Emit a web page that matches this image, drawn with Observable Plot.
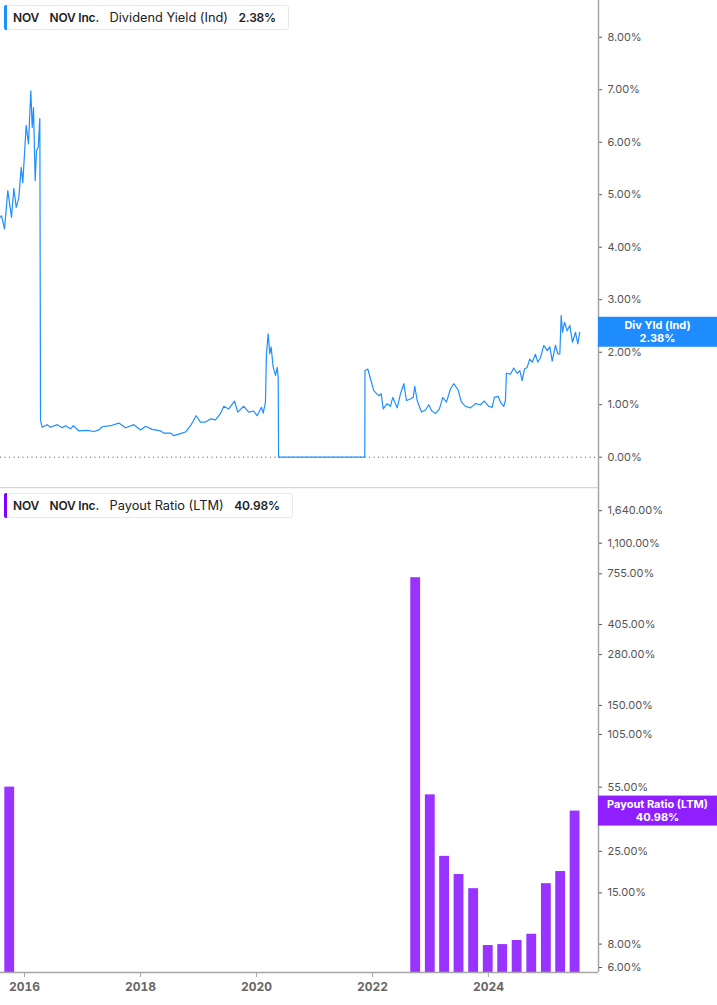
<!DOCTYPE html>
<html>
<head>
<meta charset="utf-8">
<script src="https://cdn.jsdelivr.net/npm/d3@7"></script>
<script src="https://cdn.jsdelivr.net/npm/@observablehq/plot@0.6"></script>
<style>
  body { margin: 0; background: #fff; font-family: Inter, "Noto Sans", sans-serif; }
  #wrap { position: relative; width: 717px; height: 1005px; overflow: hidden; }
  #wrap svg { display: block; }
  .legend { position: absolute; left: 4px; height: 25px; border: 1px solid #e8e8e8; border-radius: 3px;
    background: #fff; display: flex; align-items: center; gap: 10.5px; padding: 0 12px 0 8px;
    font-size: 12px; color: #222; box-sizing: border-box; white-space: nowrap; }
  .legend .bar { position: absolute; left: -1px; top: -1px; bottom: -1px; width: 3px; border-radius: 2px 0 0 2px; }
  .legend b { font-weight: 600; letter-spacing: -0.2px; }
  .legend span.lab { font-size: 12.8px; }
</style>
</head>
<body>
<div id="wrap">
  <div id="topPanel"></div>
  <div id="botPanel"></div>
  <div class="legend" style="top:5px"><span class="bar" style="background:#1e8fff"></span><b>NOV</b><b>NOV Inc.</b><span class="lab">Dividend Yield (Ind)</span><b>2.38%</b></div>
  <div class="legend" style="top:493px"><span class="bar" style="background:#8000ff"></span><b>NOV</b><b>NOV Inc.</b><span class="lab">Payout Ratio (LTM)</span><b>40.98%</b></div>
</div>
<script>
// ---- Data: Dividend Yield (Ind), % (date as decimal year) ----
const yieldYears = [
  2015.586, 2015.603, 2015.655, 2015.712, 2015.776, 2015.816, 2015.857, 2015.902, 2015.943, 2015.971,
  2016.029, 2016.069, 2016.109, 2016.133, 2016.155, 2016.184, 2016.207, 2016.236, 2016.264,
  2016.276, 2016.305, 2016.391, 2016.448, 2016.564, 2016.650, 2016.707, 2016.793, 2016.840, 2016.936,
  2017.081, 2017.195, 2017.281, 2017.340, 2017.483, 2017.626, 2017.741, 2017.884, 2018.000, 2018.086,
  2018.202, 2018.345, 2018.402, 2018.517, 2018.574, 2018.690, 2018.776, 2018.862, 2018.960, 2019.034,
  2019.121, 2019.207, 2019.293, 2019.379, 2019.436, 2019.522, 2019.621, 2019.678, 2019.781, 2019.867,
  2019.953, 2020.012, 2020.086, 2020.116, 2020.155, 2020.172, 2020.202, 2020.229, 2020.253, 2020.288,
  2020.328, 2020.357, 2020.374, 2020.381, 2021.867,
  2021.870, 2021.919, 2021.966, 2022.022, 2022.109, 2022.150, 2022.184, 2022.253, 2022.310, 2022.350,
  2022.426, 2022.483, 2022.540, 2022.586, 2022.655, 2022.702, 2022.729, 2022.771, 2022.845, 2022.914,
  2022.971, 2023.017, 2023.086, 2023.155, 2023.212, 2023.276, 2023.345, 2023.402, 2023.478, 2023.534,
  2023.603, 2023.690, 2023.776, 2023.862, 2023.931, 2024.005, 2024.064, 2024.103, 2024.167, 2024.207,
  2024.264, 2024.293, 2024.310, 2024.379, 2024.436, 2024.495, 2024.540, 2024.581, 2024.621, 2024.667,
  2024.712, 2024.753, 2024.810, 2024.850, 2024.897, 2024.953, 2025.012, 2025.057, 2025.098, 2025.155,
  2025.195, 2025.230, 2025.253, 2025.276, 2025.310, 2025.357, 2025.402, 2025.448, 2025.500, 2025.540,
  2025.574
];
const yieldValues = [
  4.57, 4.60, 4.35, 5.08, 4.57, 5.12, 4.76, 4.94, 5.52, 5.23,
  6.32, 5.97, 6.98, 6.28, 6.66, 5.27, 5.84, 5.90, 6.45,
  0.70, 0.57, 0.62, 0.57, 0.62, 0.56, 0.60, 0.54, 0.60, 0.50,
  0.51, 0.49, 0.52, 0.58, 0.60, 0.65, 0.56, 0.62, 0.52, 0.59,
  0.53, 0.50, 0.46, 0.46, 0.41, 0.45, 0.48, 0.60, 0.79, 0.67,
  0.67, 0.73, 0.71, 0.83, 0.97, 0.92, 1.07, 0.86, 0.97, 0.86,
  0.88, 0.79, 0.95, 0.84, 1.05, 1.97, 2.35, 1.97, 2.10, 1.71,
  1.56, 1.71, 1.52, 0.00, 0.00,
  1.65, 1.68, 1.49, 1.27, 1.17, 1.21, 0.92, 1.02, 0.97, 1.14,
  0.94, 1.21, 1.40, 1.08, 1.11, 1.14, 1.35, 1.08, 0.86, 0.90,
  1.00, 0.89, 0.83, 0.92, 1.14, 1.05, 1.30, 1.40, 1.28, 1.05,
  0.97, 0.94, 1.02, 1.00, 1.07, 0.97, 0.95, 1.14, 1.16, 1.05,
  0.97, 1.08, 1.60, 1.58, 1.70, 1.60, 1.65, 1.46, 1.68, 1.71,
  1.87, 1.81, 1.96, 1.81, 1.90, 2.13, 2.03, 2.10, 1.83, 2.13,
  1.97, 1.97, 2.70, 2.38, 2.57, 2.41, 2.51, 2.19, 2.38, 2.16,
  2.38
];
const yieldTicks = [0, 1, 2, 3, 4, 5, 6, 7, 8];
const yieldLast = 2.38;

// ---- Data: Payout Ratio (LTM), % (quarter end) ----
const payoutDates = [
  "2015-09-30", "2022-09-30", "2022-12-31", "2023-03-31", "2023-06-30", "2023-09-30",
  "2023-12-31", "2024-03-31", "2024-06-30", "2024-09-30", "2024-12-31", "2025-03-31", "2025-06-30"
];
const payoutValues = [55, 720, 50, 23.5, 18.8, 15.8, 7.86, 7.95, 8.36, 9.03, 16.8, 19.5, 40.98];
const payoutTicks = [6, 8, 15, 25, 55, 105, 150, 280, 405, 755, 1100, 1640];
const payoutLast = 40.98;

const yearTicks = ["2016-01-01", "2018-01-01", "2020-01-01", "2022-01-01", "2024-01-01"];

// ---- helpers ----
function toDate(y) {
  const yr = Math.floor(y);
  const s = Date.UTC(yr, 0, 1), e = Date.UTC(yr + 1, 0, 1);
  return new Date(s + (y - yr) * (e - s));
}
const xDomain = [toDate(2015.586), toDate(2025.897)];
const W = 717, MR = 119;
const axisGray = "#a6a6a6";
const tickColor = "#555";
const font = {fontFamily: "Inter, 'Noto Sans', sans-serif", fontSize: "11px", background: "transparent"};

const yieldData = yieldYears.map((y, i) => ({date: toDate(y), value: yieldValues[i]}));
const payoutData = payoutDates.map((d, i) => ({date: new Date(d), value: payoutValues[i]}));
const DAY = 864e5;

function valueTag(value, lines, fill) {
  return (index, scales, values, dimensions) => {
    const y = scales.y(value);
    const x0 = dimensions.width - dimensions.marginRight;
    const cx = x0 + dimensions.marginRight / 2;
    const g = d3.create("svg:g");
    g.append("rect").attr("x", x0).attr("y", y - 15).attr("width", dimensions.marginRight).attr("height", 30).attr("fill", fill);
    const t = g.append("text").attr("text-anchor", "middle")
      .attr("fill", "#fff").attr("font-weight", 700).attr("font-size", 11);
    t.append("tspan").attr("x", cx).attr("y", y - 2.5).text(lines[0]);
    t.append("tspan").attr("x", cx).attr("y", y + 10).text(lines[1]);
    return g.node();
  };
}

// right-side axis: tick marks + labels (labels drawn as text so none are filtered)
function rightAxis(ticks, fmt) {
  return [
    Plot.axisY({anchor: "right", ticks, tickSize: 3, stroke: tickColor, tickFormat: () => "", label: null}),
    Plot.text(ticks, {y: d => d, text: fmt, frameAnchor: "right", textAnchor: "start", dx: 9,
      fill: "#555", fontSize: 11})
  ];
}

// ---- Top panel: dividend yield ----
const yTopDomain = [-0.577, 8.70];
const topChart = Plot.plot({
  width: W, height: 487,
  marginTop: 0, marginBottom: 0, marginLeft: 0, marginRight: MR,
  style: font,
  x: {type: "utc", domain: xDomain, axis: null},
  y: {domain: yTopDomain, axis: null},
  marks: [
    Plot.ruleY([0], {stroke: "#555", strokeDasharray: "1,3.5", strokeWidth: 1}),
    ...rightAxis(yieldTicks, d => d.toFixed(2) + "%"),
    Plot.ruleX([xDomain[1]], {stroke: axisGray, strokeWidth: 1.5}),
    Plot.line(yieldData, {x: "date", y: "value", stroke: "#1e8fff", strokeWidth: 1.2}),
    valueTag(yieldLast, ["Div Yld (Ind)", yieldLast.toFixed(2) + "%"], "#1e8cff")
  ]
});
document.getElementById("topPanel").appendChild(topChart);

// ---- Bottom panel: payout ratio ----
const yBotDomain = [5.644, 2180];
const botChart = Plot.plot({
  width: W, height: 518,
  marginTop: 0, marginBottom: 33, marginLeft: 0, marginRight: MR,
  style: font,
  x: {type: "utc", domain: xDomain},
  y: {type: "log", domain: yBotDomain, axis: null},
  marks: [
    Plot.ruleY([yBotDomain[1]], {stroke: "#d6d6d6", strokeWidth: 1.5}),
    Plot.rect(payoutData, {
      x1: d => new Date(+d.date - 31 * DAY), x2: d => new Date(+d.date + 31 * DAY),
      y1: () => yBotDomain[0], y2: "value", fill: "#9933ff"
    }),
    Plot.ruleY([yBotDomain[0]], {stroke: axisGray, strokeWidth: 1.5}),
    Plot.ruleX([xDomain[1]], {stroke: axisGray, strokeWidth: 1.5}),
    ...rightAxis(payoutTicks, d => d3.format(",.2f")(d) + "%"),
    Plot.axisX({ticks: yearTicks.map(d => new Date(d)), tickFormat: "%Y", tickSize: 5, tickPadding: 5,
      stroke: axisGray, fill: "#666", fontWeight: 700, fontSize: 12, label: null}),
    valueTag(payoutLast, ["Payout Ratio (LTM)", payoutLast.toFixed(2) + "%"], "#8f1fff")
  ]
});
document.getElementById("botPanel").appendChild(botChart);
</script>
</body>
</html>
